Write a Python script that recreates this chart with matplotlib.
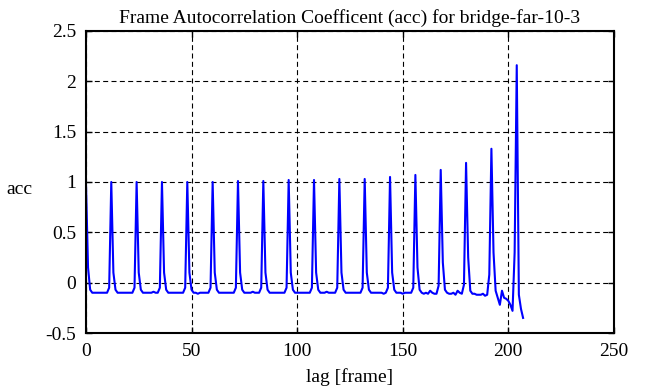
import matplotlib
matplotlib.use("Agg")
import matplotlib.pyplot as plt

plt.rcParams['font.family'] = ['Liberation Serif', 'DejaVu Serif']

# acc value for each lag 0..207 (one row per 12-frame period)
acc = [
    1.00, 0.15, -0.07, -0.10, -0.10, -0.10, -0.10, -0.10, -0.10, -0.10, -0.10, -0.05,
    1.00, 0.10, -0.07, -0.10, -0.10, -0.10, -0.10, -0.10, -0.10, -0.10, -0.10, -0.05,
    1.00, 0.10, -0.07, -0.10, -0.10, -0.10, -0.10, -0.10, -0.09, -0.10, -0.10, -0.05,
    1.00, 0.10, -0.07, -0.10, -0.10, -0.10, -0.10, -0.10, -0.10, -0.10, -0.10, -0.05,
    1.00, 0.10, -0.07, -0.10, -0.10, -0.11, -0.10, -0.10, -0.10, -0.10, -0.10, -0.05,
    1.00, 0.10, -0.07, -0.10, -0.10, -0.10, -0.10, -0.10, -0.10, -0.10, -0.10, -0.05,
    1.01, 0.10, -0.07, -0.10, -0.10, -0.10, -0.10, -0.09, -0.10, -0.10, -0.10, -0.05,
    1.01, 0.10, -0.07, -0.10, -0.10, -0.10, -0.10, -0.10, -0.10, -0.10, -0.10, -0.05,
    1.02, 0.10, -0.07, -0.10, -0.10, -0.10, -0.10, -0.10, -0.10, -0.10, -0.10, -0.05,
    1.02, 0.10, -0.07, -0.10, -0.10, -0.10, -0.09, -0.10, -0.10, -0.10, -0.10, -0.05,
    1.03, 0.10, -0.07, -0.10, -0.10, -0.10, -0.10, -0.10, -0.10, -0.10, -0.10, -0.05,
    1.03, 0.10, -0.07, -0.10, -0.10, -0.10, -0.10, -0.10, -0.10, -0.11, -0.10, -0.05,
    1.05, 0.10, -0.07, -0.10, -0.10, -0.10, -0.11, -0.10, -0.10, -0.10, -0.10, -0.05,
    1.07, 0.15, -0.07, -0.10, -0.11, -0.10, -0.11, -0.08, -0.10, -0.11, -0.11, -0.03,
    1.12, 0.20, -0.07, -0.10, -0.11, -0.11, -0.10, -0.12, -0.08, -0.10, -0.11, -0.02,
    1.19, 0.25, -0.08, -0.11, -0.11, -0.12, -0.12, -0.12, -0.11, -0.13, -0.12, 0.08,
    1.33, 0.30, -0.08, -0.15, -0.22, -0.08, -0.15, -0.16, -0.18, -0.22, -0.28, 0.30,
    2.16, -0.12, -0.26, -0.35,
]
lags = list(range(len(acc)))

x_ticks = [0, 50, 100, 150, 200, 250]
y_ticks = [-0.5, 0, 0.5, 1, 1.5, 2, 2.5]
y_labels = ['-0.5', '0', '0.5', '1', '1.5', '2', '2.5']

fig = plt.figure(figsize=(6.51, 3.87), dpi=100)
ax = fig.add_axes([0.132, 0.1395, 0.811, 0.7805])

ax.plot(lags, acc, color='#0000ff', linewidth=1.5)

ax.set_xlim(0, 250)
ax.set_ylim(-0.5, 2.5)
ax.set_xticks(x_ticks)
ax.set_yticks(y_ticks)
ax.set_yticklabels(y_labels)
ax.tick_params(direction='in', length=4, width=1, top=True, right=True,
               labelsize=14, pad=7, colors='black')
ax.grid(True, color='black', linestyle=(0, (4.5, 3)), linewidth=0.8)
for s in ax.spines.values():
    s.set_linewidth(1.5)

ax.set_title('Frame Autocorrelation Coefficent (acc) for bridge-far-10-3', fontsize=14, pad=6)
ax.set_xlabel('lag [frame]', fontsize=14, labelpad=6)
ax.set_ylabel('acc', fontsize=14, rotation=0, va='center', ha='center')
ax.yaxis.set_label_coords(-0.125, 0.475)

fig.savefig('out.png', dpi=100)
